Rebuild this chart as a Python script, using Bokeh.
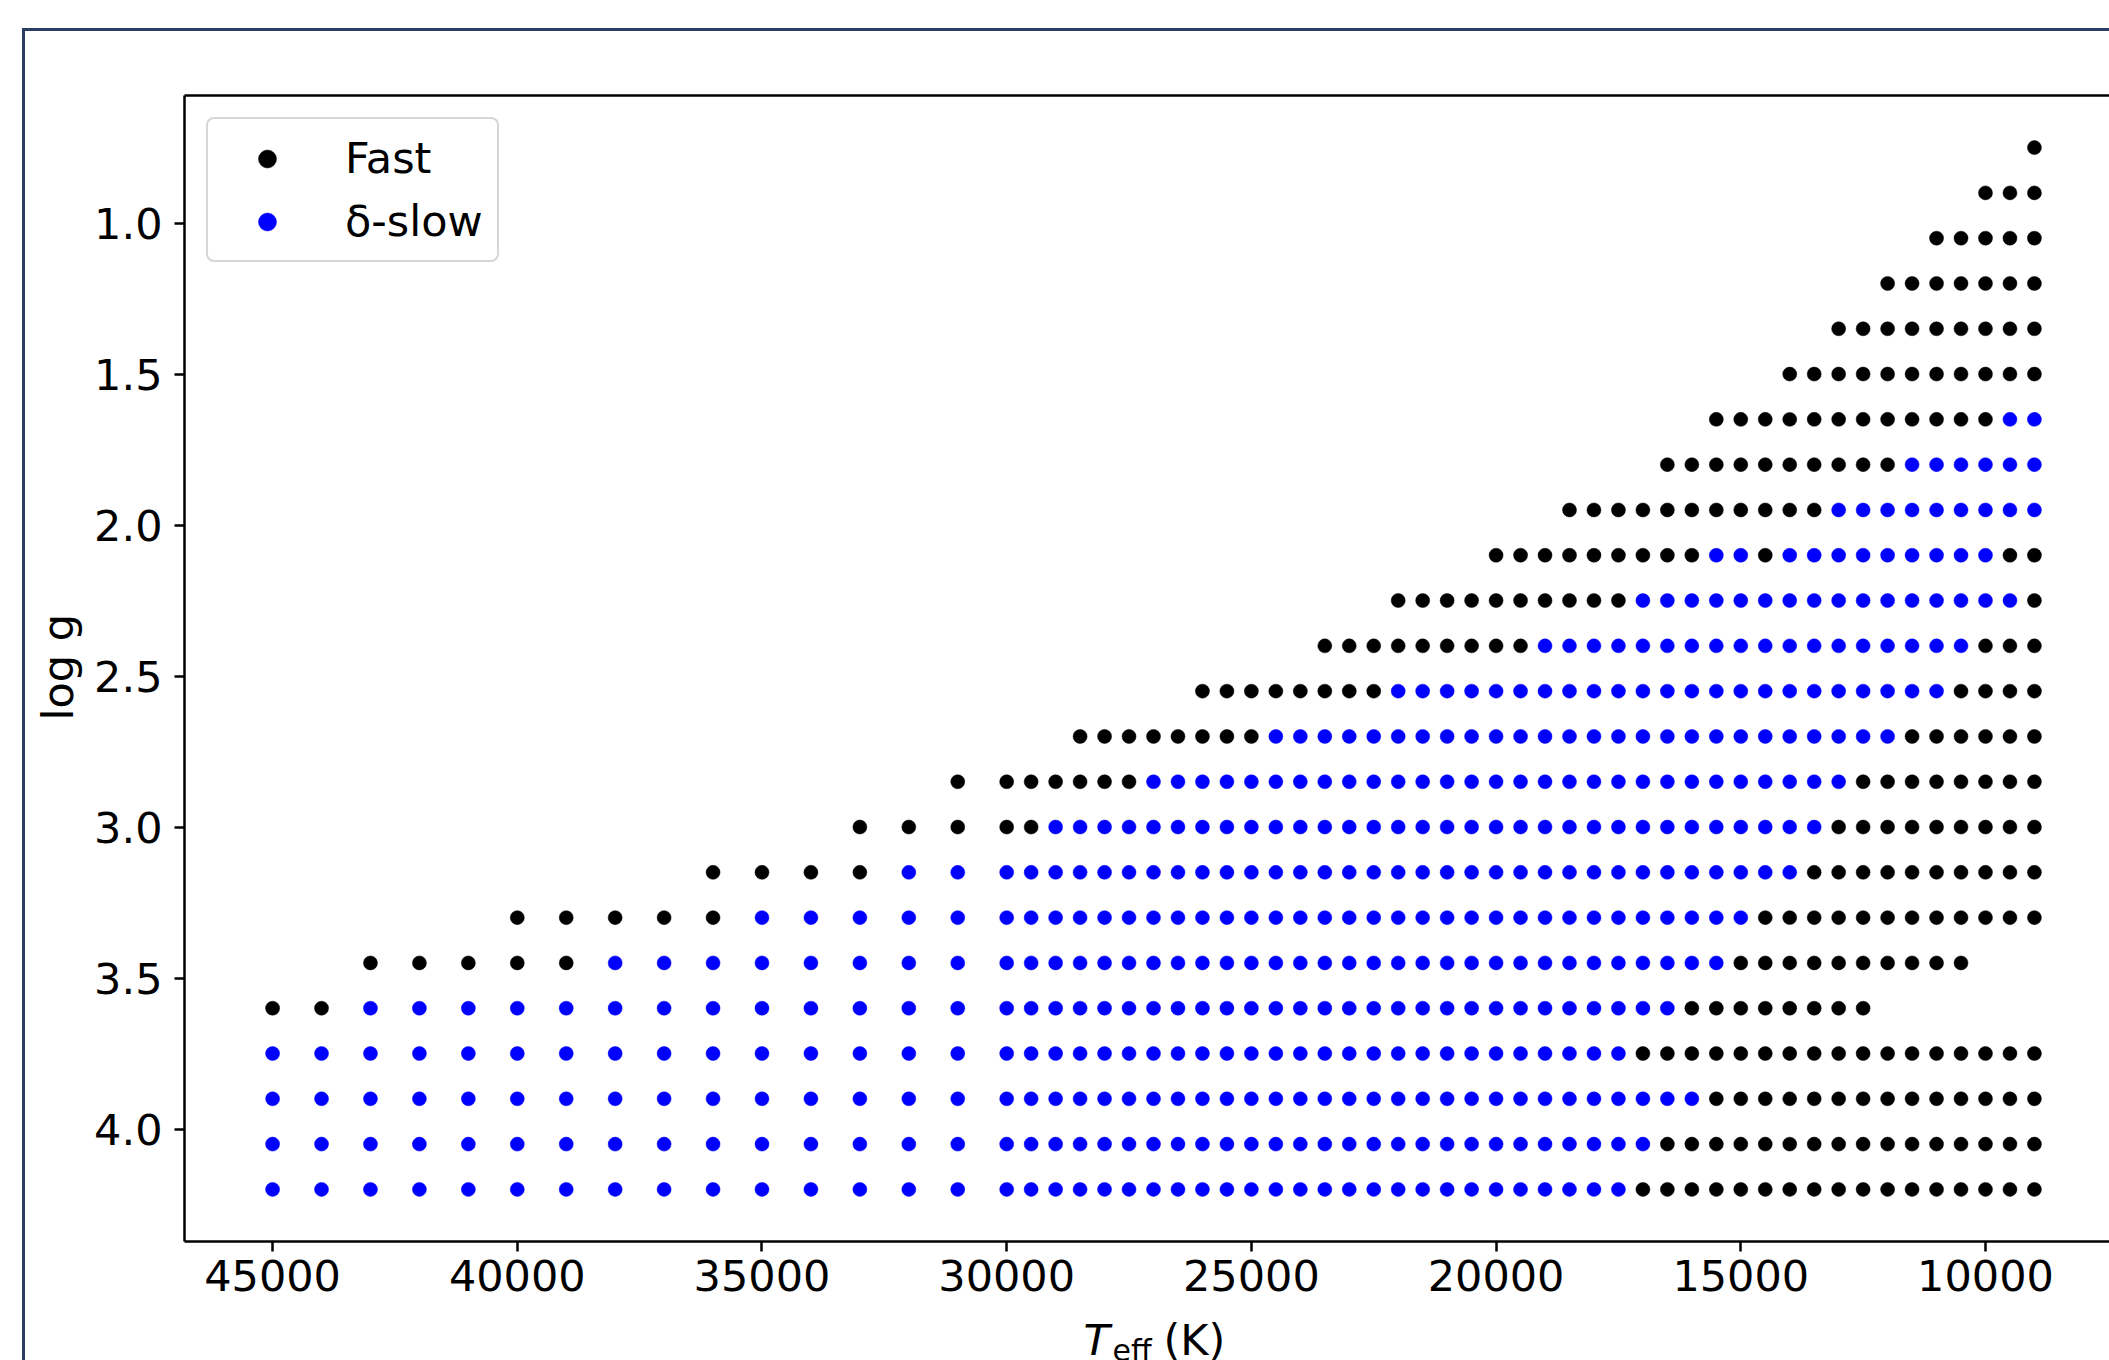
import math
from bokeh.plotting import figure
from bokeh.models import (Range1d, FixedTicker, NumeralTickFormatter, LinearAxis,
                          Label, Legend, LegendItem, InlineStyleSheet)
from bokeh.embed import file_html
from bokeh.resources import INLINE

# ---------------- data ----------------
# model grid in effective temperature (K)
TEFF_GRID = [45000, 44000, 43000, 42000, 41000, 40000, 39000, 38000, 37000, 36000,
             35000, 34000, 33000, 32000, 31000,
             30000, 29500, 29000, 28500, 28000, 27500, 27000, 26500, 26000, 25500,
             25000, 24500, 24000, 23500, 23000, 22500, 22000, 21500, 21000, 20500,
             20000, 19500, 19000, 18500, 18000, 17500, 17000, 16500, 16000, 15500,
             15000, 14500, 14000, 13500, 13000, 12500, 12000, 11500, 11000, 10500,
             10000, 9500, 9000]

# runs along each log g row: (log g, class, hottest Teff, coolest Teff)
# class "F" = Fast, "S" = delta-slow
ROW_RUNS = [
    (0.75, "F", 9000, 9000),
    (0.90, "F", 10000, 9000),
    (1.05, "F", 11000, 9000),
    (1.20, "F", 12000, 9000),
    (1.35, "F", 13000, 9000),
    (1.50, "F", 14000, 9000),
    (1.65, "F", 15500, 10000), (1.65, "S", 9500, 9000),
    (1.80, "F", 16500, 12000), (1.80, "S", 11500, 9000),
    (1.95, "F", 18500, 13500), (1.95, "S", 13000, 9000),
    (2.10, "F", 20000, 16000), (2.10, "S", 15500, 15000), (2.10, "F", 14500, 14500),
    (2.10, "S", 14000, 10000), (2.10, "F", 9500, 9000),
    (2.25, "F", 22000, 17500), (2.25, "S", 17000, 9500), (2.25, "F", 9000, 9000),
    (2.40, "F", 23500, 19500), (2.40, "S", 19000, 10500), (2.40, "F", 10000, 9000),
    (2.55, "F", 26000, 22500), (2.55, "S", 22000, 11000), (2.55, "F", 10500, 9000),
    (2.70, "F", 28500, 25000), (2.70, "S", 24500, 12000), (2.70, "F", 11500, 9000),
    (2.85, "F", 31000, 27500), (2.85, "S", 27000, 13000), (2.85, "F", 12500, 9000),
    (3.00, "F", 33000, 29500), (3.00, "S", 29000, 13500), (3.00, "F", 13000, 9000),
    (3.15, "F", 36000, 33000), (3.15, "S", 32000, 14000), (3.15, "F", 13500, 9000),
    (3.30, "F", 40000, 36000), (3.30, "S", 35000, 15000), (3.30, "F", 14500, 9000),
    (3.45, "F", 43000, 39000), (3.45, "S", 38000, 15500), (3.45, "F", 15000, 10500),
    (3.60, "F", 45000, 44000), (3.60, "S", 43000, 16500), (3.60, "F", 16000, 12500),
    (3.75, "S", 45000, 17500), (3.75, "F", 17000, 9000),
    (3.90, "S", 45000, 16000), (3.90, "F", 15500, 9000),
    (4.05, "S", 45000, 17000), (4.05, "F", 16500, 9000),
    (4.20, "S", 45000, 17500), (4.20, "F", 17000, 9000),
]

SERIES_LABELS = {"F": "Fast", "S": "δ-slow"}
SERIES_COLORS = {"F": "#000000", "S": "#0000ff"}

X_TICKS = [45000, 40000, 35000, 30000, 25000, 20000, 15000, 10000]
Y_TICKS = [1.0, 1.5, 2.0, 2.5, 3.0, 3.5, 4.0]

# ---------------- build point lists ----------------
pts = {"F": ([], []), "S": ([], [])}
for logg, cls, t_hot, t_cool in ROW_RUNS:
    for t in TEFF_GRID:
        if t_cool <= t <= t_hot:
            pts[cls][0].append(t)
            pts[cls][1].append(logg)

FONT = "DejaVu Sans"
FS = "43px"

p = figure(width=2109, height=1360,
           x_range=Range1d(46800, 7466), y_range=Range1d(4.3725, 0.5775),
           output_backend="svg", toolbar_location=None,
           min_border_left=184, min_border_right=0,
           min_border_top=95, min_border_bottom=119)
p.title.visible = False
p.outline_line_color = None
p.xgrid.visible = False
p.ygrid.visible = False
p.background_fill_color = "white"
p.border_fill_color = "white"


def style_axis(ax):
    ax.axis_line_color = "black"
    ax.axis_line_width = 2.5
    ax.major_tick_line_color = "black"
    ax.major_tick_line_width = 2.5
    ax.major_tick_out = 10
    ax.major_tick_in = 0
    ax.minor_tick_line_color = None
    ax.major_label_text_font = FONT
    ax.major_label_text_font_size = FS
    ax.major_label_text_color = "black"


xa = p.xaxis[0]
style_axis(xa)
xa.ticker = FixedTicker(ticks=X_TICKS)
xa.formatter = NumeralTickFormatter(format="0")
xa.major_label_standoff = 8

ya = p.yaxis[0]
style_axis(ya)
ya.ticker = FixedTicker(ticks=Y_TICKS)
ya.formatter = NumeralTickFormatter(format="0.0")
ya.major_label_standoff = 12

top_ax = LinearAxis(ticker=FixedTicker(ticks=[]))
style_axis(top_ax)
top_ax.major_tick_line_color = None
top_ax.major_tick_out = 0
top_ax.major_label_standoff = 0
top_ax.major_label_text_font_size = "0px"
p.add_layout(top_ax, "above")

renderers = {}
for cls in ["F", "S"]:
    renderers[cls] = p.scatter(pts[cls][0], pts[cls][1], size=14,
                               fill_color=SERIES_COLORS[cls],
                               line_color=SERIES_COLORS[cls], line_width=0.5)

legend = Legend(items=[LegendItem(label=SERIES_LABELS[c], renderers=[renderers[c]])
                       for c in ["F", "S"]],
                location="top_left", margin=22, padding=14, spacing=13,
                glyph_width=90, glyph_height=45, label_standoff=33,
                label_text_font=FONT, label_text_font_size=FS, label_text_color="black",
                border_line_color="#cccccc", border_line_width=2, border_line_alpha=0.8,
                background_fill_color="white", background_fill_alpha=0.8,
                border_radius=8)
p.add_layout(legend)


def text_label(x, y, text, size=FS, style="normal", angle=0.0):
    return Label(x=x, y=y, x_units="canvas", y_units="canvas", text=text, angle=angle,
                 text_font=FONT, text_font_size=size, text_font_style=style,
                 text_baseline="alphabetic", text_align="left", text_color="black")


# axis labels (mathtext-like pieces), placed in side panels so they are not clipped
p.add_layout(text_label(1083, 1339, "T", style="italic"), "below")
p.add_layout(text_label(1112, 1350, "eff", size="30px"), "above")
p.add_layout(text_label(1163, 1339, "(K)"), "above")
p.add_layout(text_label(57, 720, "log g", angle=math.pi / 2), "left")

# outer navy frame line of the original figure (left and top edges)
p.stylesheets = [InlineStyleSheet(css="""
:host { position: relative; }
:host::after {
  content: ''; position: absolute; left: 22px; top: 28px;
  width: 2087px; height: 1332px; box-sizing: border-box;
  border-left: 3px solid #2c3e63; border-top: 3px solid #2c3e63;
  pointer-events: none; z-index: 10;
}
""")]

open("out.html", "w").write(file_html(p, INLINE))
